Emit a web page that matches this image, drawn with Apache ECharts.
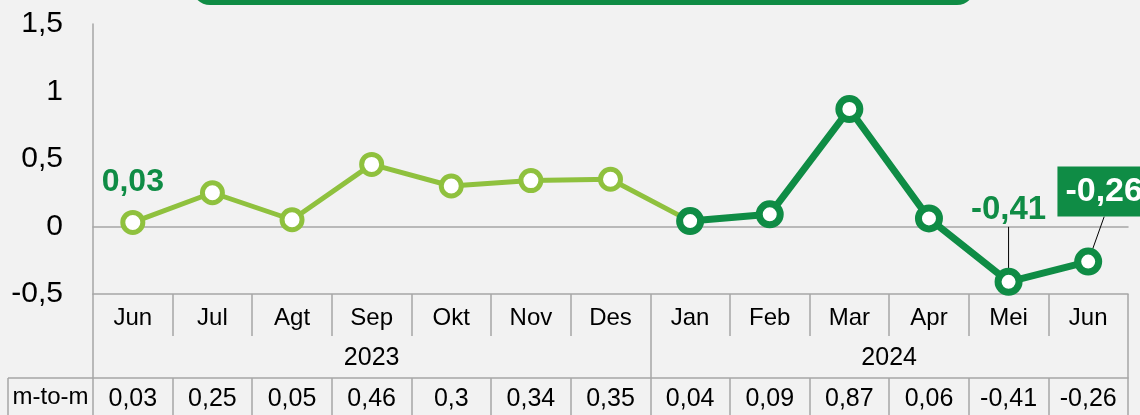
<!DOCTYPE html>
<html>
<head>
<meta charset="utf-8">
<script src="https://cdn.jsdelivr.net/npm/echarts@6/dist/echarts.min.js"></script>
<style>
  html, body { margin: 0; padding: 0; background: #f2f2f2; }
  #main { width: 1140px; height: 415px; }
</style>
</head>
<body>
<div id="main"></div>
<script>
// data
var months = ['Jun', 'Jul', 'Agt', 'Sep', 'Okt', 'Nov', 'Des', 'Jan', 'Feb', 'Mar', 'Apr', 'Mei', 'Jun'];
var years = ['2023', '2024'];
var yearSpans = [7, 6];
var mtm = [0.03, 0.25, 0.05, 0.46, 0.3, 0.34, 0.35, 0.04, 0.09, 0.87, 0.06, -0.41, -0.26];
var rowName = 'm-to-m';
var splitAt = 7; // first month of 2024

var LIGHT = '#8fc13e';
var DARK = '#0f8c45';
var GRID = '#a6a6a6';
var FONT = "'Liberation Sans Narrow', 'Arial Narrow', 'Liberation Sans', Arial, sans-serif";

function fmt(v) {
  return String(v).replace('.', ',');
}

// 2023 line runs up to Jan so it joins the 2024 line
var series2023 = mtm.map(function (v, i) { return i <= splitAt ? v : '-'; });
var series2024 = mtm.map(function (v, i) { return i >= splitAt ? v : '-'; });

// year label positions / dividers on a 0..n value scale
var yearCenters = [];
var yearBounds = [0];
var acc = 0;
for (var k = 0; k < yearSpans.length; k++) {
  yearCenters.push(acc + yearSpans[k] / 2);
  acc += yearSpans[k];
  yearBounds.push(acc);
}

var gridLeft = 93, gridRight = 12, gridTop = 24, gridBottom = 121;
var rowH = 42;

var myChart = echarts.init(document.getElementById('main'));

var option = {
  backgroundColor: '#f2f2f2',
  textStyle: { fontFamily: FONT },
  grid: { left: gridLeft, right: gridRight, top: gridTop, bottom: gridBottom },
  xAxis: [{
    // month row
    type: 'category',
    data: months,
    position: 'bottom',
    axisLine: { onZero: false, lineStyle: { color: GRID, width: 1.5 } },
    axisTick: { show: true, interval: 0, length: rowH, lineStyle: { color: GRID, width: 1.5 } },
    axisLabel: { interval: 0, margin: 12, fontSize: 24, color: '#000', fontFamily: FONT }
  }, {
    // m-to-m values row
    type: 'category',
    data: mtm.map(fmt),
    position: 'bottom',
    offset: rowH * 2,
    axisLine: { onZero: false, lineStyle: { color: GRID, width: 1.5 } },
    axisTick: { show: true, interval: 0, length: 40, lineStyle: { color: GRID, width: 1.5 } },
    axisLabel: { interval: 0, margin: 9, fontSize: 25, color: '#000', fontFamily: FONT }
  }, {
    // year row
    type: 'value',
    min: 0,
    max: months.length,
    position: 'bottom',
    offset: rowH,
    splitLine: { show: false },
    axisLine: { show: false, onZero: false },
    axisTick: { show: true, customValues: yearBounds, length: rowH, lineStyle: { color: GRID, width: 1.5 } },
    axisLabel: {
      customValues: yearCenters,
      margin: 10,
      fontSize: 25,
      color: '#000',
      fontFamily: FONT,
      formatter: function (v) {
        return years[yearCenters.indexOf(v)];
      }
    }
  }, {
    // zero line
    type: 'category',
    data: months,
    position: 'bottom',
    axisLine: { onZero: true, lineStyle: { color: GRID, width: 1.5 } },
    axisTick: { show: false },
    axisLabel: { show: false }
  }],
  yAxis: {
    type: 'value',
    min: -0.5,
    max: 1.5,
    interval: 0.5,
    splitLine: { show: false },
    axisTick: { show: false },
    axisLine: { show: true, lineStyle: { color: GRID, width: 1.5 } },
    axisLabel: { margin: 30, fontSize: 30, color: '#000', fontFamily: FONT, formatter: fmt }
  },
  series: [{
    name: '2023',
    type: 'line',
    data: series2023.map(function (v, i) {
      if (i === 0) {
        return {
          value: v,
          label: {
            show: true,
            position: 'top',
            distance: 12,
            formatter: fmt(v),
            color: DARK,
            fontSize: 32,
            fontWeight: 'bold',
            fontFamily: FONT
          }
        };
      }
      return v;
    }),
    symbol: 'circle',
    symbolSize: 20,
    lineStyle: { color: LIGHT, width: 5 },
    itemStyle: { color: '#fff', borderColor: LIGHT, borderWidth: 5 },
    z: 3
  }, {
    name: '2024',
    type: 'line',
    data: series2024.map(function (v, i) {
      if (i === 11) {
        return {
          value: v,
          label: {
            show: true,
            position: 'top',
            formatter: fmt(v),
            color: DARK,
            fontSize: 33,
            fontWeight: 'bold',
            fontFamily: FONT,
            padding: [0, 0, 12, 0]
          },
          labelLine: { show: true, lineStyle: { color: '#000', width: 1 } }
        };
      }
      if (i === 12) {
        return {
          value: v,
          label: {
            show: true,
            position: 'top',
            formatter: fmt(v),
            color: '#fff',
            backgroundColor: DARK,
            fontSize: 34,
            fontWeight: 'bold',
            fontFamily: FONT,
            padding: [8, 8, 8, 8]
          },
          labelLine: { show: true, lineStyle: { color: '#000', width: 1 } }
        };
      }
      return v;
    }),
    symbol: 'circle',
    symbolSize: 21,
    lineStyle: { color: DARK, width: 7 },
    itemStyle: { color: '#fff', borderColor: DARK, borderWidth: 7 },
    labelLayout: function (p) {
      if (p.dataIndex === 11) return { dy: -24 };
      if (p.dataIndex === 12) return { dx: 16, dy: -26 };
      return {};
    },
    z: 4
  }],
  graphic: [{
    // header box, mostly cut off by the top edge
    type: 'rect',
    shape: { x: 192, y: -40, width: 783, height: 45, r: 18 },
    style: { fill: DARK }
  }, {
    type: 'line',
    shape: { x1: 8, y1: 415 - 37, x2: gridLeft, y2: 415 - 37 },
    style: { stroke: GRID, lineWidth: 1.5 }
  }, {
    type: 'line',
    shape: { x1: 8, y1: 415 - 37, x2: 8, y2: 415 },
    style: { stroke: GRID, lineWidth: 1.5 }
  }, {
    type: 'text',
    x: (8 + gridLeft) / 2,
    y: 415 - 18,
    style: {
      text: rowName,
      fontSize: 24,
      fontFamily: FONT,
      fill: '#000',
      align: 'center',
      verticalAlign: 'middle'
    }
  }]
};

myChart.setOption(option);
</script>
</body>
</html>
